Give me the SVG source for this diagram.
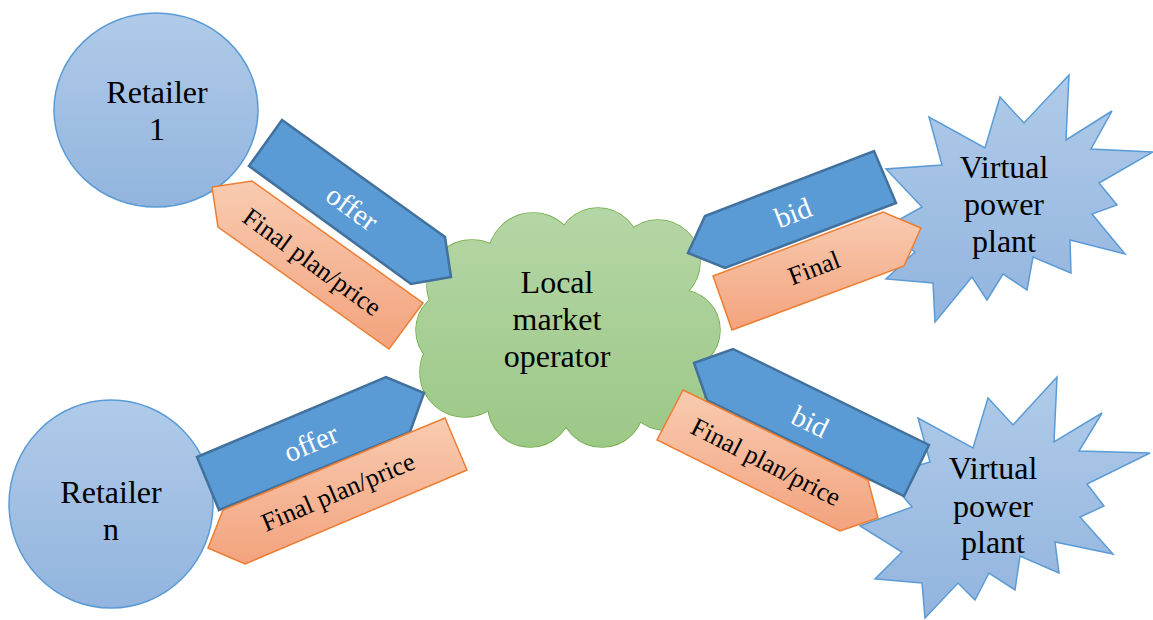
<svg xmlns="http://www.w3.org/2000/svg" width="1153" height="620" viewBox="0 0 1153 620" font-family="'Liberation Serif', 'Times New Roman', serif">
<defs>
<linearGradient id="gBlue" x1="0" y1="0" x2="0" y2="1">
<stop offset="0" stop-color="#b0cbe9"/><stop offset="1" stop-color="#92b4de"/>
</linearGradient>
<linearGradient id="gGreen" gradientUnits="userSpaceOnUse" x1="0" y1="207" x2="0" y2="448">
<stop offset="0" stop-color="#b5d6a6"/><stop offset="1" stop-color="#9cc887"/>
</linearGradient>
<linearGradient id="gOrange" x1="0" y1="0" x2="0" y2="1">
<stop offset="0" stop-color="#f8cbb1"/><stop offset="1" stop-color="#f3a37e"/>
</linearGradient>
<style>
.node{fill:url(#gBlue);stroke:#5b9bd5;stroke-width:1.5}
text{font-family:'Liberation Serif','Times New Roman',serif}
.lbl{font-size:32px;fill:#000;text-anchor:middle}
.blue{fill:#5b9bd5;stroke:#41719c;stroke-width:2.5;stroke-linejoin:miter}
.orange{fill:url(#gOrange);stroke:#ed7d31;stroke-width:1.5}
.wt{font-size:29px;fill:#fff;text-anchor:middle}
.bt{font-size:26px;fill:#000;text-anchor:middle}
.cs{fill:none;stroke:#70ad47;stroke-width:1.5}
.cf{fill:url(#gGreen);stroke:none}
</style>
</defs>
<rect width="1153" height="620" fill="#fff"/>
<g id="retailer1">
<ellipse class="node" cx="156" cy="110" rx="102" ry="97"/>
<text class="lbl" x="157" y="103" font-family="Liberation Serif, serif">Retailer</text>
<text class="lbl" x="157" y="140" font-family="Liberation Serif, serif">1</text>
</g>
<g id="retailerN">
<ellipse class="node" cx="111" cy="504" rx="102" ry="104"/>
<text class="lbl" x="111" y="503" font-family="Liberation Serif, serif">Retailer</text>
<text class="lbl" x="111" y="540" font-family="Liberation Serif, serif">n</text>
</g>
<g id="market">
<g class="cs">
<circle cx="472" cy="285" r="45"/><circle cx="533" cy="258" r="45"/><circle cx="598" cy="250" r="42"/><circle cx="658" cy="262" r="42"/><circle cx="680" cy="330" r="40"/><circle cx="665" cy="390" r="40"/><circle cx="602" cy="405" r="42"/><circle cx="530" cy="405" r="42"/><circle cx="465" cy="372" r="45"/><circle cx="456" cy="330" r="40"/>
</g>
<g class="cf">
<circle cx="472" cy="285" r="45"/><circle cx="533" cy="258" r="45"/><circle cx="598" cy="250" r="42"/><circle cx="658" cy="262" r="42"/><circle cx="680" cy="330" r="40"/><circle cx="665" cy="390" r="40"/><circle cx="602" cy="405" r="42"/><circle cx="530" cy="405" r="42"/><circle cx="465" cy="372" r="45"/><circle cx="456" cy="330" r="40"/><circle cx="570" cy="330" r="95"/>
</g>
<text class="lbl" x="557" y="293" font-family="Liberation Serif, serif">Local</text>
<text class="lbl" x="557" y="330" font-family="Liberation Serif, serif">market</text>
<text class="lbl" x="557" y="367" font-family="Liberation Serif, serif">operator</text>
</g>
<g id="vpp1">
<polygon class="node" points="1069,75 1066,140 1112,111 1091,149 1153,152 1099,183 1117,205 1092,214 1125,254 1070,240 1071,273 1033,257 1027,290 1003,274 987,300 972,277 935,322 933,283 886,279 915,252 884,228 922,207 886,169 942,165 929,117 985,148 1000,97 1024,123"/>
<text class="lbl" x="1004" y="178" font-family="Liberation Serif, serif">Virtual</text>
<text class="lbl" x="1004" y="215" font-family="Liberation Serif, serif">power</text>
<text class="lbl" x="1004" y="252" font-family="Liberation Serif, serif">plant</text>
</g>
<g id="vpp2">
<polygon class="node" points="1057,377 1054,442 1102,413 1079,451 1150,453 1087,484 1104,506 1080,517 1113,554 1055,542 1059,573 1020,556 1015,590 989,573 975,600 958,583 925,618 922,583 875,579 902,552 860,526 912,507 885,475 930,462 918,418 973,448 988,398 1013,425"/>
<text class="lbl" x="993" y="479" font-family="Liberation Serif, serif">Virtual</text>
<text class="lbl" x="993" y="517" font-family="Liberation Serif, serif">power</text>
<text class="lbl" x="993" y="553" font-family="Liberation Serif, serif">plant</text>
</g>
<g id="connectors">
<g id="offer1">
<polygon class="blue" points="282,120 445,237 451,277 411,284 249,166"/>
<text class="wt" transform="translate(352,208) rotate(36)" dy="0.33em" font-family="Liberation Serif, serif">offer</text>
</g>
<g id="final1">
<polygon class="orange" points="212,187 252,181 423,303 389,349 218,227"/>
<text class="bt" transform="translate(312,262) rotate(36)" dy="0.33em" font-family="Liberation Serif, serif">Final plan/price</text>
</g>
<g id="bid1">
<polygon class="blue" points="688,253 705,216 874,151 896,203 725,268"/>
<text class="wt" transform="translate(793,213) rotate(-21)" dy="0.33em" font-family="Liberation Serif, serif">bid</text>
</g>
<g id="final2">
<polygon class="orange" points="713,276 883,212 921,228 904,266 732,330"/>
<text class="bt" transform="translate(814,268) rotate(-21)" dy="0.33em" font-family="Liberation Serif, serif">Final</text>
</g>
<g id="bid2">
<polygon class="blue" points="694,363 733,349 929,445 904,496 707,400"/>
<text class="wt" transform="translate(810,422) rotate(26)" dy="0.33em" font-family="Liberation Serif, serif">bid</text>
</g>
<g id="final3">
<polygon class="orange" points="683,390 868,480 878,518 840,531 657,440"/>
<text class="bt" transform="translate(766,462) rotate(27)" dy="0.33em" font-family="Liberation Serif, serif">Final plan/price</text>
</g>
<g id="offer2">
<polygon class="blue" points="197,457 386,377 424,393 410,432 219,510"/>
<text class="wt" transform="translate(311,443) rotate(-23)" dy="0.33em" font-family="Liberation Serif, serif">offer</text>
</g>
<g id="final4">
<polygon class="orange" points="445,418 467,470 245,564 208,548 223,510"/>
<text class="bt" transform="translate(338,492) rotate(-23)" dy="0.33em" font-family="Liberation Serif, serif">Final plan/price</text>
</g>
</g>
</svg>
